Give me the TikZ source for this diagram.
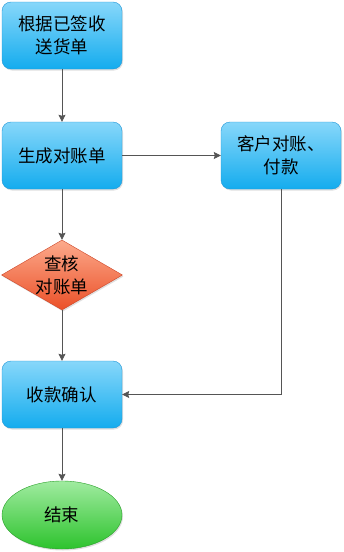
\documentclass[tikz,border=0pt]{standalone}
\usepackage{fontspec}
\newfontfamily\cjk{Noto Sans CJK SC}
\usetikzlibrary{shapes.geometric,shadows,arrows.meta}

\definecolor{boxline}{RGB}{30,150,215}
\definecolor{boxtop}{RGB}{135,215,250}
\definecolor{boxbot}{RGB}{20,172,238}
\definecolor{chkline}{RGB}{205,70,40}
\definecolor{chktop}{RGB}{252,170,140}
\definecolor{chkbot}{RGB}{235,80,40}
\definecolor{endline}{RGB}{40,160,40}
\definecolor{endtop}{RGB}{160,235,160}
\definecolor{endbot}{RGB}{45,195,45}
\definecolor{link}{RGB}{85,85,85}

\tikzset{
    flowbox/.style={draw=boxline, rounded corners=9pt, top color=boxtop, bottom color=boxbot,
        minimum width=120pt, minimum height=67pt, inner sep=0pt, align=center,
        font=\cjk\fontsize{17.5}{23}\selectfont, drop shadow={opacity=0.25, shadow xshift=1pt, shadow yshift=-1.5pt}},
    checkbox/.style={diamond, aspect=1.73, draw=chkline, top color=chktop, bottom color=chkbot,
        minimum width=121pt, minimum height=70pt, inner sep=0pt, align=center,
        font=\cjk\fontsize{17.5}{23}\selectfont, drop shadow={opacity=0.25, shadow xshift=1pt, shadow yshift=-1.5pt}},
    endbox/.style={ellipse, draw=endline, top color=endtop, bottom color=endbot,
        minimum width=120pt, minimum height=68pt, inner sep=0pt, align=center,
        font=\cjk\fontsize{17.5}{23}\selectfont, drop shadow={opacity=0.25, shadow xshift=1pt, shadow yshift=-1.5pt}},
    link/.style={draw=link, line width=0.8pt, ->}
}

\begin{document}
\begin{tikzpicture}[x=1pt, y=-1pt, >={Stealth[length=7pt, width=7pt, inset=1pt]}]
    \useasboundingbox (0,0) rectangle (343,552);
    \node[flowbox] (receipt) at (62,35.5) {根据已签收\\送货单};
    \node[flowbox] (bill) at (62,155.5) {生成对账单};
    \node[flowbox] (pay) at (281,155.5) {客户对账、\\付款};
    \node[checkbox] (check) at (62,275) {查核\\对账单};
    \node[flowbox] (confirm) at (62,394.5) {收款确认};
    \node[endbox] (finish) at (62,515) {结束};

    \draw[link] (receipt) -- (bill);
    \draw[link] (bill) -- (pay);
    \draw[link] (bill) -- (check);
    \draw[link] (check) -- (confirm);
    \draw[link] (pay.south) |- (confirm.east);
    \draw[link] (confirm) -- (finish);
\end{tikzpicture}
\end{document}
